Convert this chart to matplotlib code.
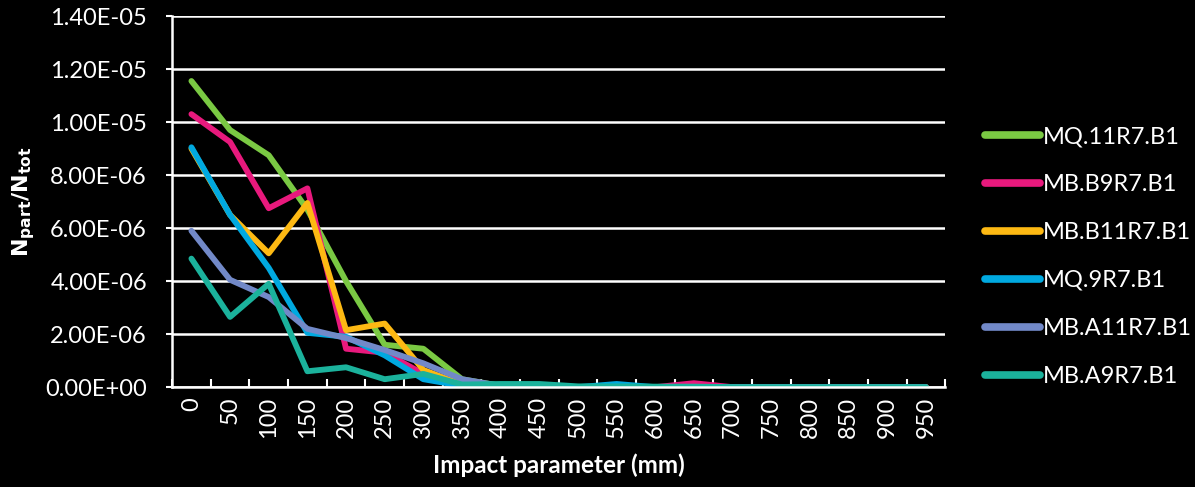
import numpy as np
import matplotlib.pyplot as plt
from matplotlib.ticker import FuncFormatter

plt.rcParams['font.family'] = ['Lato', 'DejaVu Sans']

impact = [0, 50, 100, 150, 200, 250, 300, 350, 400, 450,
          500, 550, 600, 650, 700, 750, 800, 850, 900, 950]

mq11 = [11.55, 9.7, 8.75, 6.7, 4.0, 1.6, 1.45, 0.3, 0.05, 0.05,
        0.0, 0.0, 0.0, 0.0, 0.0, 0.0, 0.0, 0.0, 0.0, 0.0]
mbb9 = [10.3, 9.25, 6.75, 7.5, 1.45, 1.3, 0.5, 0.1, 0.0, 0.0,
        0.0, 0.0, 0.0, 0.15, 0.0, 0.0, 0.0, 0.0, 0.0, 0.0]
mbb11 = [9.0, 6.5, 5.05, 6.95, 2.15, 2.4, 0.65, 0.1, 0.0, 0.0,
         0.0, 0.0, 0.0, 0.0, 0.0, 0.0, 0.0, 0.0, 0.0, 0.0]
mq9 = [9.05, 6.5, 4.5, 2.05, 1.9, 1.2, 0.3, 0.05, 0.0, 0.0,
       0.0, 0.12, 0.0, 0.0, 0.0, 0.0, 0.0, 0.0, 0.0, 0.0]
mba11 = [5.9, 4.05, 3.4, 2.2, 1.85, 1.4, 0.9, 0.3, 0.05, 0.0,
         0.0, 0.0, 0.0, 0.0, 0.0, 0.0, 0.0, 0.0, 0.0, 0.0]
mba9 = [4.85, 2.65, 3.9, 0.6, 0.75, 0.3, 0.5, 0.1, 0.12, 0.12,
        0.03, 0.03, 0.02, 0.02, 0.0, 0.0, 0.0, 0.0, 0.0, 0.0]

series = [
    ("MQ.11R7.B1", mq11, "#7ac943"),
    ("MB.B9R7.B1", mbb9, "#e8197d"),
    ("MB.B11R7.B1", mbb11, "#fdb913"),
    ("MQ.9R7.B1", mq9, "#00a9e0"),
    ("MB.A11R7.B1", mba11, "#7289c8"),
    ("MB.A9R7.B1", mba9, "#1bb29c"),
]

fig = plt.figure(figsize=(11.95, 4.87), dpi=100, facecolor="black")
ax = fig.add_axes([0.144, 0.205, 0.647, 0.762], facecolor="black")

x = np.arange(len(impact))
for name, vals, col in series:
    ax.plot(x, np.array(vals) * 1e-6, color=col, lw=4.2, label=name,
            solid_capstyle="round", solid_joinstyle="round")

ax.set_xlim(-0.5, len(impact) - 0.5)
ax.set_ylim(0, 1.4e-5)
ax.set_yticks(np.arange(0, 1.41e-5, 2e-6))
ax.yaxis.set_major_formatter(FuncFormatter(
    lambda v, p: "%.2E" % v))
ax.grid(axis="y", color="white", lw=1.8)
ax.set_axisbelow(True)

ax.set_xticks(x)
ax.set_xticklabels([str(v) for v in impact], rotation=90)
ax.set_xticks(np.arange(-0.5, len(impact)), minor=True)
ax.tick_params(axis="x", which="major", length=0, colors="white",
               labelsize=17, pad=7)
ax.tick_params(axis="x", which="minor", length=6, width=1.5,
               direction="in", color="white")
ax.tick_params(axis="y", colors="white", labelsize=17, length=4,
               width=1.5, direction="out", pad=14)

for s in ["top", "right"]:
    ax.spines[s].set_visible(False)
for s in ["left", "bottom"]:
    ax.spines[s].set_color("white")
    ax.spines[s].set_linewidth(1.8)

ax.set_xlabel("Impact parameter (mm)", color="white", fontsize=17.5,
              fontweight="bold", labelpad=11)
ax.set_ylabel(r"$\mathbf{N_{part}/N_{tot}}$", color="white", fontsize=16,
              labelpad=6)

leg = ax.legend(loc="center left", bbox_to_anchor=(1.052, 0.352),
                frameon=False, fontsize=17, labelspacing=1.14,
                handlelength=2.3, handletextpad=0.15, borderpad=0,
                borderaxespad=0)
for t in leg.get_texts():
    t.set_color("white")
for h in leg.get_lines():
    h.set_linewidth(5.5)

fig.savefig("out.png", facecolor="black")
